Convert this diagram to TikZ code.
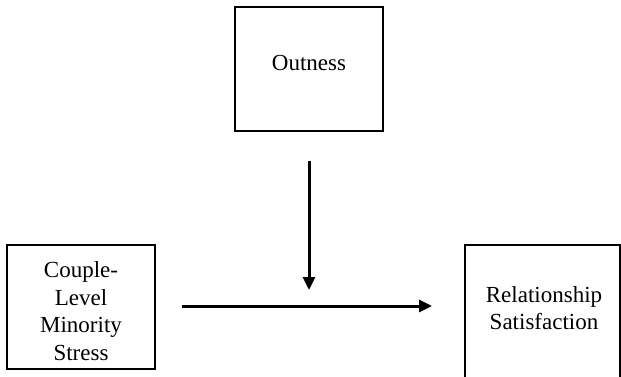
\documentclass[tikz,border=0pt]{standalone}
\usepackage{fontspec}
\setmainfont{Liberation Serif}
\usetikzlibrary{arrows.meta}
\begin{document}
\begin{tikzpicture}[x=1pt,y=-1pt,
  box/.style={draw, line width=2pt, inner sep=0pt, minimum width=#1},
  lbl/.style={font=\fontsize{23}{27.5}\selectfont, align=center, inner sep=0pt},
  conn/.style={line width=3pt, -{Triangle[length=13pt,width=12pt]}}]
\clip (0,0) rectangle (621,377);
\fill[white] (0,0) rectangle (621,377);
\node[box=148pt, minimum height=124pt] (out) at (309,69) {};
\node[lbl] (outt) at (309,63) {Outness};
\node[box=148pt, minimum height=124pt] (cms) at (81,307) {};
\node[lbl] (cmst) at (81,311) {Couple-\\Level\\Minority\\Stress};
\node[box=155pt, minimum height=155pt] (rs) at (542.5,322.5) {};
\node[lbl] (rst) at (544,308) {Relationship\\Satisfaction};
\coordinate (vs) at (309,161);
\coordinate (ve) at (309,290);
\coordinate (hs) at (182,306);
\coordinate (he) at (432,306);
\draw[conn] (vs) -- (ve);
\draw[conn] (hs) -- (he);
\end{tikzpicture}
\end{document}
